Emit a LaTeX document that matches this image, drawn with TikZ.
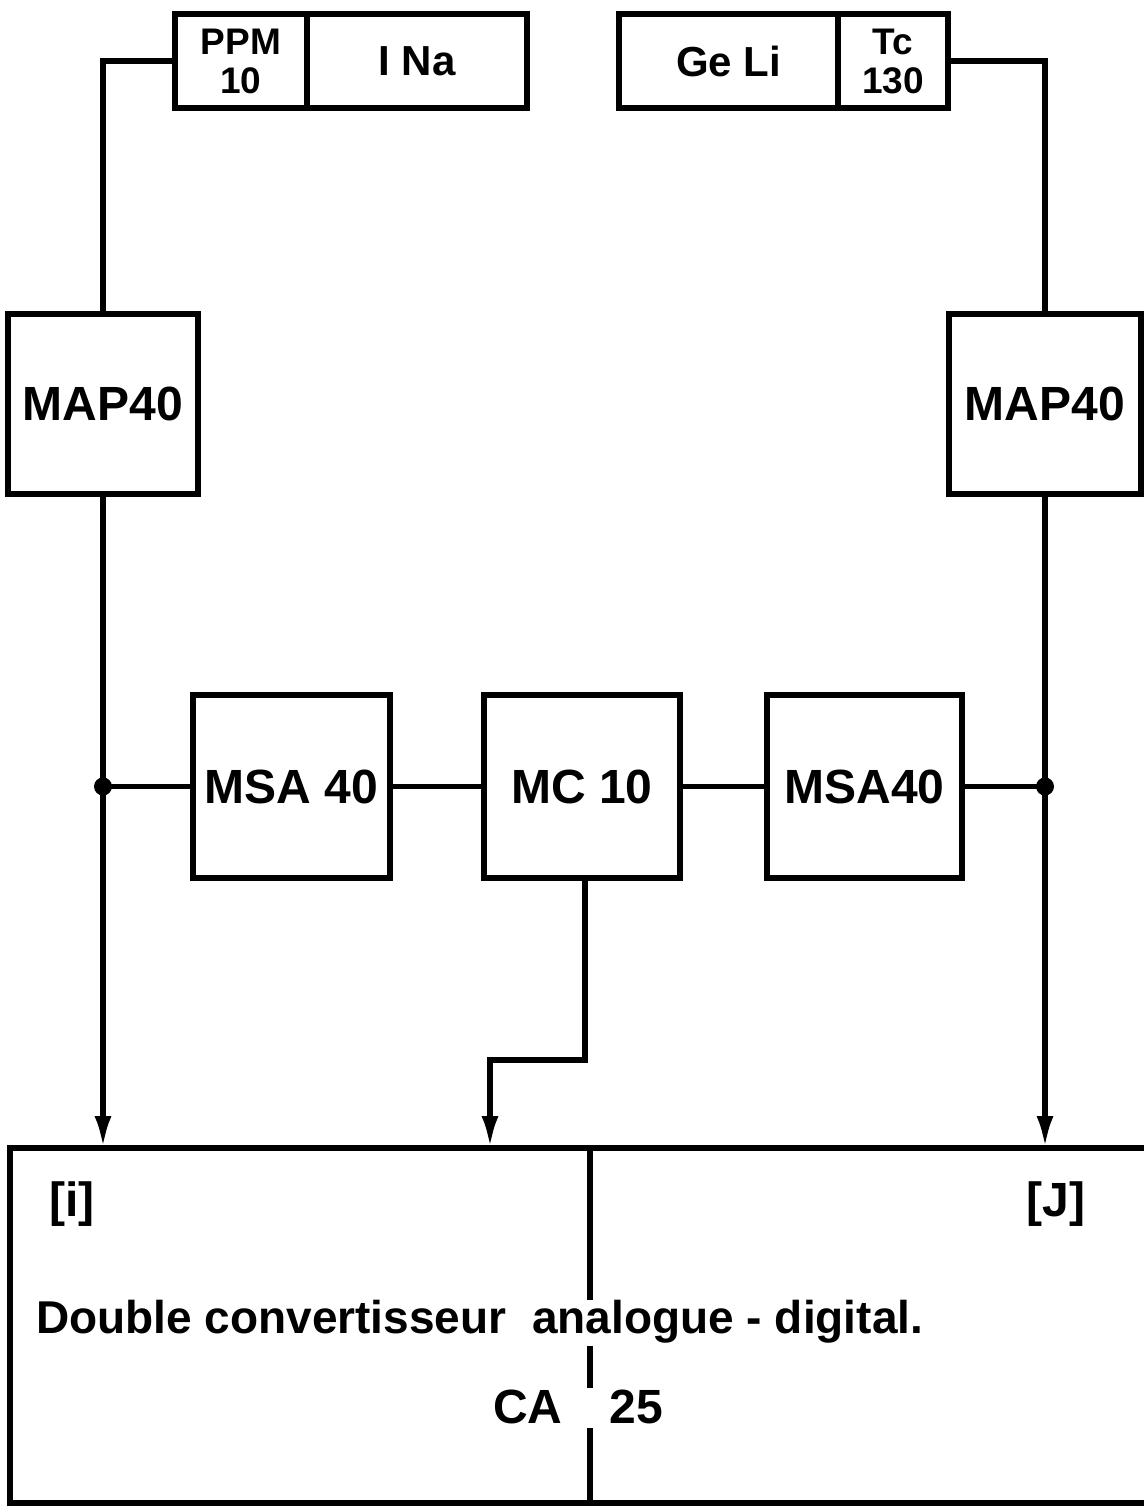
\documentclass[tikz,border=0pt]{standalone}
\usepackage{fontspec}
\setmainfont{Liberation Sans}
\usetikzlibrary{arrows.meta}
\begin{document}
\begin{tikzpicture}[x=1pt,y=-1pt,
  blk/.style={draw,line width=6.5pt,inner sep=0pt,font=\fontsize{48}{52}\selectfont\bfseries},
  det/.style={draw,line width=6.5pt,inner sep=0pt,minimum height=94pt,font=\fontsize{37}{39}\selectfont\bfseries,align=center},
  wire/.style={line width=5.5pt},
  arr/.style={line width=5.5pt,-{Latex[length=32pt,width=17pt]}},
  dotj/.style={circle,fill,inner sep=0pt,minimum size=18pt},
  lbl/.style={inner sep=0pt,font=\fontsize{48}{52}\selectfont\bfseries}]
\useasboundingbox (0,0) rectangle (1144,1506);
% detector boxes
\node[det,minimum width=132pt] (ppm) at (241,61) {PPM\\10};
\node[det,minimum width=220pt,font=\fontsize{42}{46}\selectfont\bfseries] (ina) at (417,61) {I Na};
\node[det,minimum width=219pt,font=\fontsize{42}{46}\selectfont\bfseries] (geli) at (728.5,61) {Ge Li};
\node[det,minimum width=110pt] (tc) at (893,61) {Tc\\130};
% amplifiers
\node[blk,minimum width=190pt,minimum height=180pt] (mapL) at (103,404) {MAP40};
\node[blk,minimum width=192pt,minimum height=180pt] (mapR) at (1045,404) {MAP40};
\node[blk,minimum width=197pt,minimum height=183pt] (msaL) at (291.5,786.5) {MSA 40};
\node[blk,minimum width=196pt,minimum height=183pt] (mc) at (582,786.5) {MC 10};
\node[blk,minimum width=195pt,minimum height=183pt] (msaR) at (864.5,786.5) {MSA40};
% converter box
\coordinate (bTL) at (10,1148);
\coordinate (bTR) at (1144,1148);
\coordinate (bBL) at (10,1503);
\coordinate (bBR) at (1144,1503);
\draw[line width=6pt] (bTR) -- (bTL) -- (bBL) -- (bBR);
\coordinate (inL) at (mapL.south |- bTL);
\coordinate (inR) at (mapR.south |- bTL);
\coordinate (inM) at (490,1148);
\coordinate (bend) at (585,1060);
\coordinate (jL) at (mapL.south |- msaL.west);
\coordinate (jR) at (mapR.south |- msaR.east);
% wires
\draw[wire] (ppm.west) -| (mapL.north);
\draw[wire] (tc.east) -| (mapR.north);
\draw[arr] (mapL.south) -- (inL);
\draw[arr] (mapR.south) -- (inR);
\draw[wire] (jL) -- (msaL.west);
\draw[wire] (msaL.east) -- (mc.west);
\draw[wire] (mc.east) -- (msaR.west);
\draw[wire] (msaR.east) -- (jR);
\draw[arr] (mc.south -| bend) -- (bend) -| (inM);
\node[dotj] at (jL) {};
\node[dotj] at (jR) {};
% divider
\draw[wire] (590,1150) -- (590,1300);
\draw[wire] (590,1346) -- (590,1388);
\draw[wire] (590,1428) -- (590,1503);
% labels
\node[lbl] (li) at (72,1204) {[i]};
\node[lbl] (lj) at (1056,1204) {[J]};
\node[lbl,anchor=west,font=\fontsize{46}{50}\selectfont\bfseries] (title) at (36,1322) {Double convertisseur \ analogue - digital.};
\node[lbl] (ca) at (528,1407) {CA};
\node[lbl] (n25) at (636,1407) {25};
\end{tikzpicture}
\end{document}
